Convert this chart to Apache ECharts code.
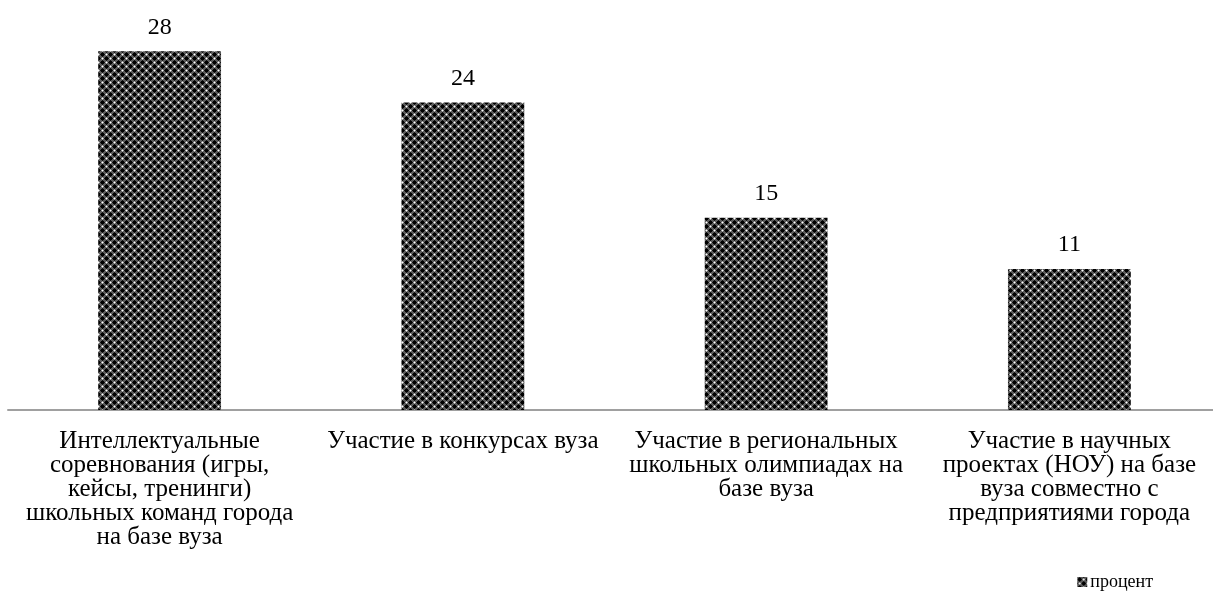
<!DOCTYPE html>
<html><head><meta charset="utf-8">
<script src="https://cdn.jsdelivr.net/npm/echarts@6/dist/echarts.min.js"></script>
<style>html,body{margin:0;padding:0;background:#fff}#c{width:1213px;height:592px}</style>
</head><body><div id="c"></div>
<script>
const categories = [
  'Интеллектуальные\nсоревнования (игры,\nкейсы, тренинги)\nшкольных команд города\nна базе вуза',
  'Участие в конкурсах вуза',
  'Участие в региональных\nшкольных олимпиадах на\nбазе вуза',
  'Участие в научных\nпроектах (НОУ) на базе\nвуза совместно с\nпредприятиями города'
];
const values = [28, 24, 15, 11];
const seriesName = 'процент';

function makePattern(){
  const n = 8;
  const c = document.createElement('canvas');
  c.width = n; c.height = n;
  const g = c.getContext('2d');
  g.fillStyle = '#5a5a5a'; g.fillRect(0,0,n,n);
  const px = (x,y,col)=>{g.fillStyle=col; g.fillRect(((x%n)+n)%n,((y%n)+n)%n,1,1);};
  [[2,2],[6,6]].forEach(([cx,cy])=>{
    for(let dx=-1;dx<=1;dx++)for(let dy=-1;dy<=1;dy++)px(cx+dx,cy+dy,'#000');
    px(cx+2,cy,'#111');px(cx-2,cy,'#111');px(cx,cy+2,'#111');px(cx,cy-2,'#111');
  });
  [[6,2],[2,6]].forEach(([cx,cy])=>{
    px(cx,cy,'#ffffff');
    px(cx+1,cy,'#a8a8a8');px(cx-1,cy,'#a8a8a8');px(cx,cy+1,'#a8a8a8');px(cx,cy-1,'#a8a8a8');
  });
  return c;
}
const pat = {image: makePattern(), repeat: 'repeat'};

const chart = echarts.init(document.getElementById('c'));
chart.setOption({
  animation: false,
  grid: {left: 8, width: 1213, top: 0, bottom: 182, containLabel: false, outerBoundsMode: 'none'},
  xAxis: {
    type: 'category', data: categories,
    axisLine: {lineStyle: {color: '#a0a0a0', width: 2}},
    axisTick: {show: false},
    axisLabel: {interval: 0, margin: 19, fontFamily: 'Liberation Serif', fontSize: 25, lineHeight: 24, color: '#000', align: 'center'}
  },
  yAxis: {type: 'value', min: 0, max: 32, show: false, splitLine: {show: false}},
  legend: {
    right: 55, top: 568, itemWidth: 10, itemHeight: 10, itemGap: 4,
    icon: 'rect',
    textStyle: {fontFamily: 'Liberation Serif', fontSize: 18, color: '#000', padding: [0,0,0,-2]}
  },
  series: [{
    name: seriesName, type: 'bar', data: values, barWidth: '40.5%',
    itemStyle: {color: pat},
    label: {show: true, position: 'top', distance: 12, fontFamily: 'Liberation Serif', fontSize: 24, color: '#000'}
  }]
});
</script></body></html>
